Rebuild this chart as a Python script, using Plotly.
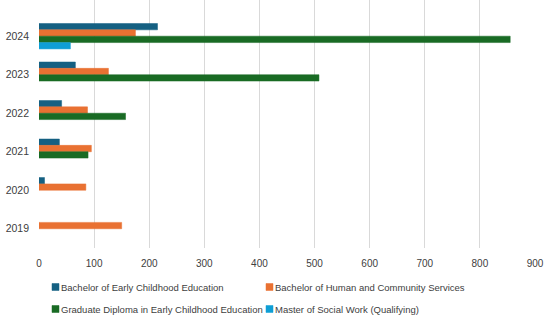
import plotly.graph_objects as go

years = ["2019", "2020", "2021", "2022", "2023", "2024"]
bece = [None, 10, 37, 41, 66, 215]
bhcs = [150, 85, 95, 88, 126, 175]
gdece = [None, None, 89, 157, 508, 855]
msw = [None, None, None, None, None, 57]

names = [
    "Bachelor of Early Childhood Education",
    "Bachelor of Human and Community Services",
    "Graduate Diploma in Early Childhood Education",
    "Master of Social Work (Qualifying)",
]
values = [bece, bhcs, gdece, msw]
colors = ["#156082", "#E97132", "#196B24", "#0F9ED5"]

W, H = 553, 322
ML, MR, MT, MB = 39, 18, 0, 74
PW, PH = W - ML - MR, H - MT - MB

fig = go.Figure()
for name, vals, col in zip(names, values, colors):
    fig.add_trace(go.Bar(
        y=years, x=vals, name=name, orientation="h",
        marker=dict(color=col, line=dict(color=col, width=0.5)),
    ))

def px_x(px):
    return (px - ML) / PW

def px_y(py):
    return (PH + MT - py) / PH

# legend laid out in two rows and two columns, like the reference
leg_pos = [(52, 287), (266, 287), (52, 309), (266, 309)]
shapes, annotations = [], []
for (sx, cy), name, col in zip(leg_pos, names, colors):
    shapes.append(dict(type="rect", xref="paper", yref="paper",
                       x0=px_x(sx), x1=px_x(sx + 7),
                       y0=px_y(cy + 3.5), y1=px_y(cy - 3.5),
                       fillcolor=col, line=dict(color=col, width=0.5)))
    annotations.append(dict(xref="paper", yref="paper", x=px_x(sx + 7),
                            y=px_y(cy), xanchor="left", yanchor="middle",
                            text=name, showarrow=False,
                            font=dict(size=9.5, color="#404040")))

font = "Liberation Sans, Arial, sans-serif"
fig.update_layout(
    width=W, height=H,
    margin=dict(l=ML, r=MR, t=MT, b=MB),
    paper_bgcolor="white", plot_bgcolor="white",
    barmode="group", bargap=0.34, bargroupgap=0,
    font=dict(family=font, size=10, color="#404040"),
    xaxis=dict(range=[0, 900], dtick=100, showgrid=True, gridcolor="#d9d9d9",
               gridwidth=1, zeroline=False, showline=False,
               ticklabelstandoff=8, tickfont=dict(size=10, color="#404040")),
    yaxis=dict(type="category", categoryorder="array",
               categoryarray=years[::-1], range=[5.5, -0.94],
               showgrid=False, zeroline=False, showline=False,
               ticklabelstandoff=9, tickfont=dict(size=10.5, color="#404040")),
    shapes=shapes,
    annotations=annotations,
    showlegend=False,
)

fig.write_html("out.html")
